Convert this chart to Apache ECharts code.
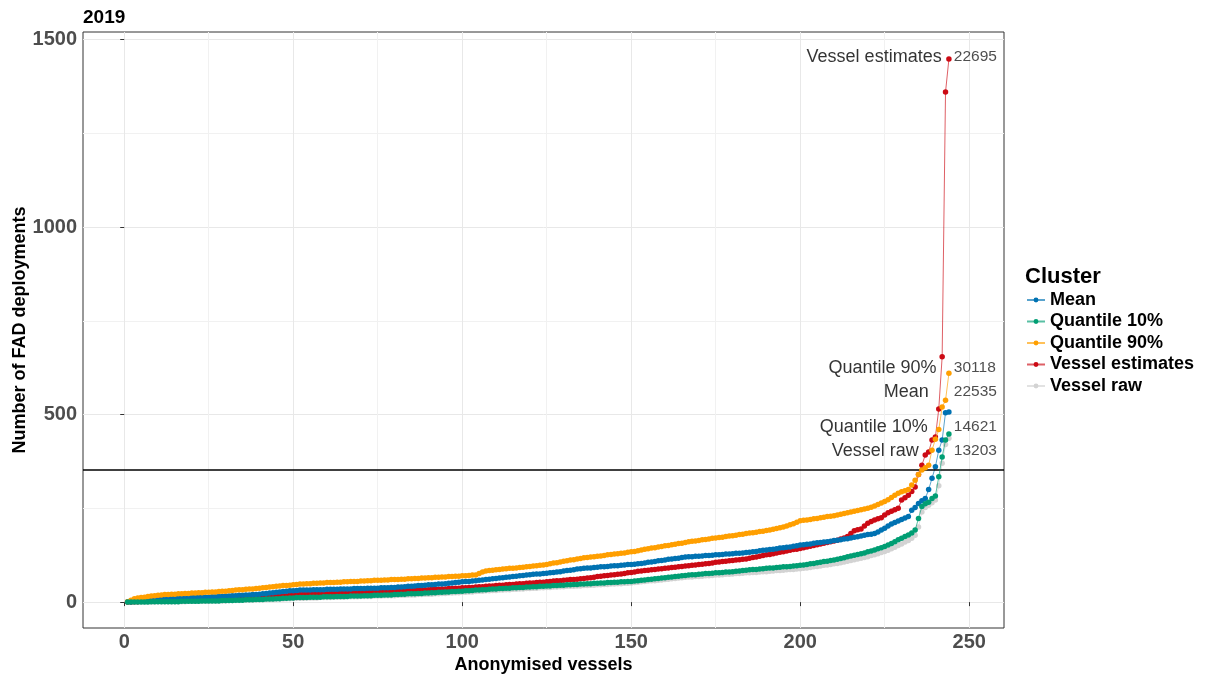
<!DOCTYPE html>
<html><head><meta charset="utf-8">
<script src="https://cdn.jsdelivr.net/npm/echarts@6/dist/echarts.min.js"></script>
<style>html,body{margin:0;padding:0;background:#fff}#c{width:1207px;height:682px}</style>
</head><body><div id="c"></div>
<script>
const chartTitle = '2019';
const xAxisName = 'Anonymised vessels';
const yAxisName = 'Number of FAD deployments';
const legendTitle = 'Cluster';
const clusterNames = ['Mean', 'Quantile 10%', 'Quantile 90%', 'Vessel estimates', 'Vessel raw'];
const clusterTotals = [22535, 14621, 30118, 22695, 13203];
const xTicks = [0, 50, 100, 150, 200, 250];
const xMinorTicks = [25, 75, 125, 175, 225];
const yTicks = [0, 500, 1000, 1500];
const yMinorTicks = [250, 750, 1250];
const thresholdValue = 352;

const meanVals = [0,1,2,3,4,5,5,6,7,7,8,9,9,10,
10,10,11,11,11,12,12,12,13,13,13,14,14,
15,15,16,16,17,17,18,18,19,19,20,20,21,
22,23,24,25,26,27,28,29,30,30,31,32,
32,32,32,33,33,33,33,34,34,34,34,35,35,35,35,36,36,36,36,37,37,37,37,38,38,
38,39,39,40,40,41,42,42,43,44,44,45,46,46,47,48,48,49,50,51,52,53,54,55,55,56,57,
58,59,60,61,62,63,64,65,66,67,68,69,70,71,72,73,74,75,75,76,77,
78,79,80,81,83,84,85,86,88,89,90,
91,91,92,93,94,94,95,96,97,97,98,99,100,100,101,102,103,
104,106,107,108,110,111,112,114,115,116,117,119,120,121,
121,122,122,123,124,124,125,126,126,127,128,128,129,130,130,131,132,
133,134,135,137,138,139,140,141,142,144,145,146,147,149,150,152,
153,154,155,157,158,159,160,161,162,164,165,
166,168,169,171,173,174,176,178,180,181,183,
187,192,197,203,208,212,216,220,224,228,
245,252,263,270,276,300,330,361,405,432,505,507];

const q10Vals = [0,0,0,0,0,0,0,1,1,1,1,1,1,1,
1,1,2,2,2,2,2,2,3,3,3,3,3,
3,4,4,4,4,5,5,5,6,6,6,7,7,
7,8,8,8,9,9,10,10,11,11,12,12,
12,12,13,13,13,13,14,14,14,14,15,15,15,15,16,16,16,16,17,17,17,18,18,18,19,
19,19,20,20,21,21,22,22,22,23,23,24,24,25,25,26,26,27,27,28,28,29,29,30,30,31,32,
32,33,33,34,35,35,36,36,37,37,38,38,39,39,40,40,41,41,42,42,43,
43,44,44,45,45,46,46,47,47,48,48,
49,49,50,50,51,51,52,52,53,53,54,54,55,55,
56,57,58,59,60,61,62,63,64,65,66,67,68,69,70,71,72,
73,73,74,75,76,76,77,78,78,79,80,80,81,82,83,84,85,
86,87,87,88,89,90,91,91,92,93,94,94,95,96,97,98,99,
100,102,103,105,106,108,109,111,112,114,
116,118,121,123,125,127,129,131,134,136,139,
142,145,148,152,156,161,166,170,175,179,
184,192,223,255,262,266,276,283,334,387,432,448];

const q90Vals = [1,5,9,11,12,13,15,16,17,18,19,20,20,21,
21,22,22,23,23,24,24,25,25,26,26,27,27,
28,29,29,30,31,32,33,33,34,35,35,36,37,
38,39,40,41,42,43,44,44,45,46,47,48,
48,49,49,50,50,51,51,52,52,52,53,53,54,54,55,55,55,56,56,57,57,58,58,58,59,
59,60,60,60,61,61,62,62,63,63,64,64,65,65,66,66,67,67,68,68,69,69,70,70,
71,72,72,76,80,83,
84,85,86,87,88,89,90,90,91,92,93,94,95,96,97,98,99,100,
102,104,105,107,109,110,112,113,115,116,118,
119,120,121,122,123,124,126,127,128,129,130,131,133,134,
135,137,139,141,142,144,145,147,148,150,151,153,154,156,157,159,161,
162,163,164,166,167,168,170,171,172,173,175,176,177,178,180,181,183,
184,185,186,188,189,191,192,194,196,198,200,203,206,209,213,217,
218,219,220,222,223,225,226,228,229,230,232,
234,236,238,240,242,244,246,248,250,253,256,
260,264,268,273,279,285,
290,294,297,300,
312,325,340,352,358,365,405,434,460,520,538,610];

const estimateVals = [0,0,1,1,2,2,3,3,4,4,5,5,6,6,
6,7,7,7,8,8,8,9,9,9,9,10,10,
10,10,11,11,11,11,12,12,12,12,13,13,13,
14,14,15,15,16,16,17,17,18,18,19,20,
20,20,21,21,21,22,22,22,23,23,23,24,24,24,25,25,25,26,26,26,27,27,27,28,28,
28,29,29,29,30,30,31,31,31,32,32,33,33,34,34,34,35,35,36,36,37,37,38,38,39,39,40,
41,41,42,43,43,44,45,45,46,47,47,48,49,49,50,51,51,52,53,53,54,
55,56,57,57,58,59,60,60,61,62,63,
64,65,66,68,69,70,71,72,73,74,75,76,78,79,80,82,83,
84,85,86,87,88,89,90,91,92,93,94,95,96,97,
98,99,100,101,102,103,104,106,107,108,109,110,111,112,113,114,115,
117,119,120,122,124,126,127,129,131,133,134,136,138,140,141,143,
145,147,149,151,153,155,157,159,161,163,165,
168,171,175,183,190,193,195,203,210,215,219,
222,225,232,238,242,246,250,
272,278,285,295,307,340,365,392,400,432,440,515,654,1360,1448];

const rawVals = [0,0,0,0,0,0,0,0,0,1,1,1,1,1,
1,1,1,1,2,2,2,2,2,2,2,3,3,
3,3,3,4,4,4,4,5,5,5,5,6,6,
6,7,7,7,8,8,8,9,9,10,10,10,
10,11,11,11,11,12,12,12,12,13,13,13,13,14,14,14,14,15,15,15,15,16,16,16,17,
17,17,17,18,18,18,19,19,19,20,20,21,21,21,22,22,23,23,24,24,25,25,26,26,27,27,28,
29,29,30,30,31,31,32,32,33,33,34,34,35,35,36,36,37,37,38,38,39,
39,40,40,41,41,42,42,42,43,43,44,
44,45,45,46,46,47,47,48,48,49,49,50,50,51,
52,53,54,55,56,57,57,58,59,60,61,62,63,64,65,66,67,
67,68,68,69,70,70,71,72,72,73,74,74,75,76,76,77,78,
78,79,79,80,81,81,82,83,84,84,85,86,87,87,88,89,90,
91,92,94,95,96,98,99,100,102,103,
105,107,109,111,113,115,117,119,121,124,126,
129,132,135,138,142,146,151,155,160,164,
170,178,200,240,252,258,265,272,310,370,420,437];

// annotation anchors (layout, data coordinates)
const nameAnchorX = [238.2, 237.9, 240.5, 242.0, 235.2];
const totalAnchorX = 245.3;
const labelAnchorY = [560, 467, 624, 1453, 403];

const colors = ['#0072B2', '#009E73', '#FF9F00', '#CC0A14', '#D3D3D3'];
const valuesByCluster = [meanVals, q10Vals, q90Vals, estimateVals, rawVals];
const FONT = '"Liberation Sans", Arial, sans-serif';

function toPoints(arr) { return arr.map((v, i) => [i + 1, v]); }

const drawOrder = [4, 3, 0, 2, 1];
const lineSeries = drawOrder.map((k, j) => {
  const s = {
    type: 'line', name: clusterNames[k], data: toPoints(valuesByCluster[k]),
    symbol: 'circle', symbolSize: 5.5, showSymbol: true, silent: true,
    itemStyle: { color: colors[k] },
    lineStyle: { color: colors[k], width: 1, opacity: 0.65 },
    emphasis: { disabled: true }, z: 2 + j, animation: false
  };
  if (j === 0) {
    s.markLine = {
      silent: true, symbol: 'none', label: { show: false }, animation: false,
      lineStyle: { color: '#000', width: 1.6, type: 'solid' },
      data: [{ yAxis: thresholdValue }]
    };
  }
  return s;
});

const nameSeries = {
  type: 'scatter', name: '__names', silent: true, symbolSize: 1, z: 20,
  itemStyle: { color: 'rgba(0,0,0,0)' },
  data: clusterNames.map((n, i) => ({ value: [nameAnchorX[i], labelAnchorY[i]], name: n })),
  label: { show: true, position: 'left', distance: 0, formatter: p => p.name,
    fontSize: 18, color: '#000', fontFamily: FONT }
};
const totalSeries = {
  type: 'scatter', name: '__totals', silent: true, symbolSize: 1, z: 20,
  itemStyle: { color: 'rgba(0,0,0,0)' },
  data: clusterTotals.map((t, i) => ({ value: [totalAnchorX, labelAnchorY[i]], name: String(t) })),
  label: { show: true, position: 'right', distance: 0, formatter: p => p.name,
    fontSize: 15.5, color: '#222', fontFamily: FONT }
};

const plain = v => String(v);
const chart = echarts.init(document.getElementById('c'), null, { renderer: 'canvas' });
chart.setOption({
  animation: false,
  backgroundColor: '#fff',
  title: [
    { text: chartTitle, left: 78, top: 3, textStyle: { fontSize: 19, fontWeight: 'bold', color: '#000', fontFamily: FONT } },
    { text: legendTitle, left: 1020, top: 261, textStyle: { fontSize: 22, fontWeight: 'bold', color: '#000', fontFamily: FONT } }
  ],
  legend: {
    data: clusterNames, orient: 'vertical', left: 1021, top: 286,
    itemWidth: 18, itemHeight: 6, itemGap: 3.5, selectedMode: false,
    textStyle: { fontSize: 18, fontWeight: 'bold', color: '#000', fontFamily: FONT }
  },
  grid: { left: 83, right: 203, top: 32, bottom: 54, show: true, borderColor: '#333', borderWidth: 1, containLabel: false, outerBoundsMode: 'none' },
  xAxis: [
    { type: 'value', min: -12.2, max: 260.3, name: xAxisName, nameLocation: 'middle', nameGap: 28, nameMoveOverlap: false,
      nameTextStyle: { fontSize: 18, fontWeight: 'bold', color: '#000', fontFamily: FONT },
      axisLine: { show: false },
      axisTick: { show: true, length: 4, lineStyle: { color: '#333' }, customValues: xTicks },
      axisLabel: { customValues: xTicks, formatter: plain, fontSize: 20, fontWeight: 'bold', color: '#4d4d4d', margin: 4, fontFamily: FONT },
      splitLine: { show: true, lineStyle: { color: '#e8e8e8', width: 1 } } },
    { type: 'value', min: -12.2, max: 260.3, axisLine: { show: false },
      axisTick: { show: false, customValues: xMinorTicks }, axisLabel: { show: false, customValues: xMinorTicks },
      splitLine: { show: true, lineStyle: { color: '#f1f1f1', width: 1 } } }
  ],
  yAxis: [
    { type: 'value', min: -69, max: 1520, name: yAxisName, nameLocation: 'middle', nameRotate: 90, nameGap: 54, nameMoveOverlap: false,
      nameTextStyle: { fontSize: 18, fontWeight: 'bold', color: '#000', fontFamily: FONT },
      axisLine: { show: false },
      axisTick: { show: true, length: 4, lineStyle: { color: '#333' }, customValues: yTicks },
      axisLabel: { customValues: yTicks, formatter: plain, fontSize: 20, fontWeight: 'bold', color: '#4d4d4d', margin: 6, fontFamily: FONT },
      splitLine: { show: true, lineStyle: { color: '#e8e8e8', width: 1 } } },
    { type: 'value', min: -69, max: 1520, axisLine: { show: false },
      axisTick: { show: false, customValues: yMinorTicks }, axisLabel: { show: false, customValues: yMinorTicks },
      splitLine: { show: true, lineStyle: { color: '#f1f1f1', width: 1 } } }
  ],
  series: lineSeries.concat([nameSeries, totalSeries])
});
</script></body></html>
